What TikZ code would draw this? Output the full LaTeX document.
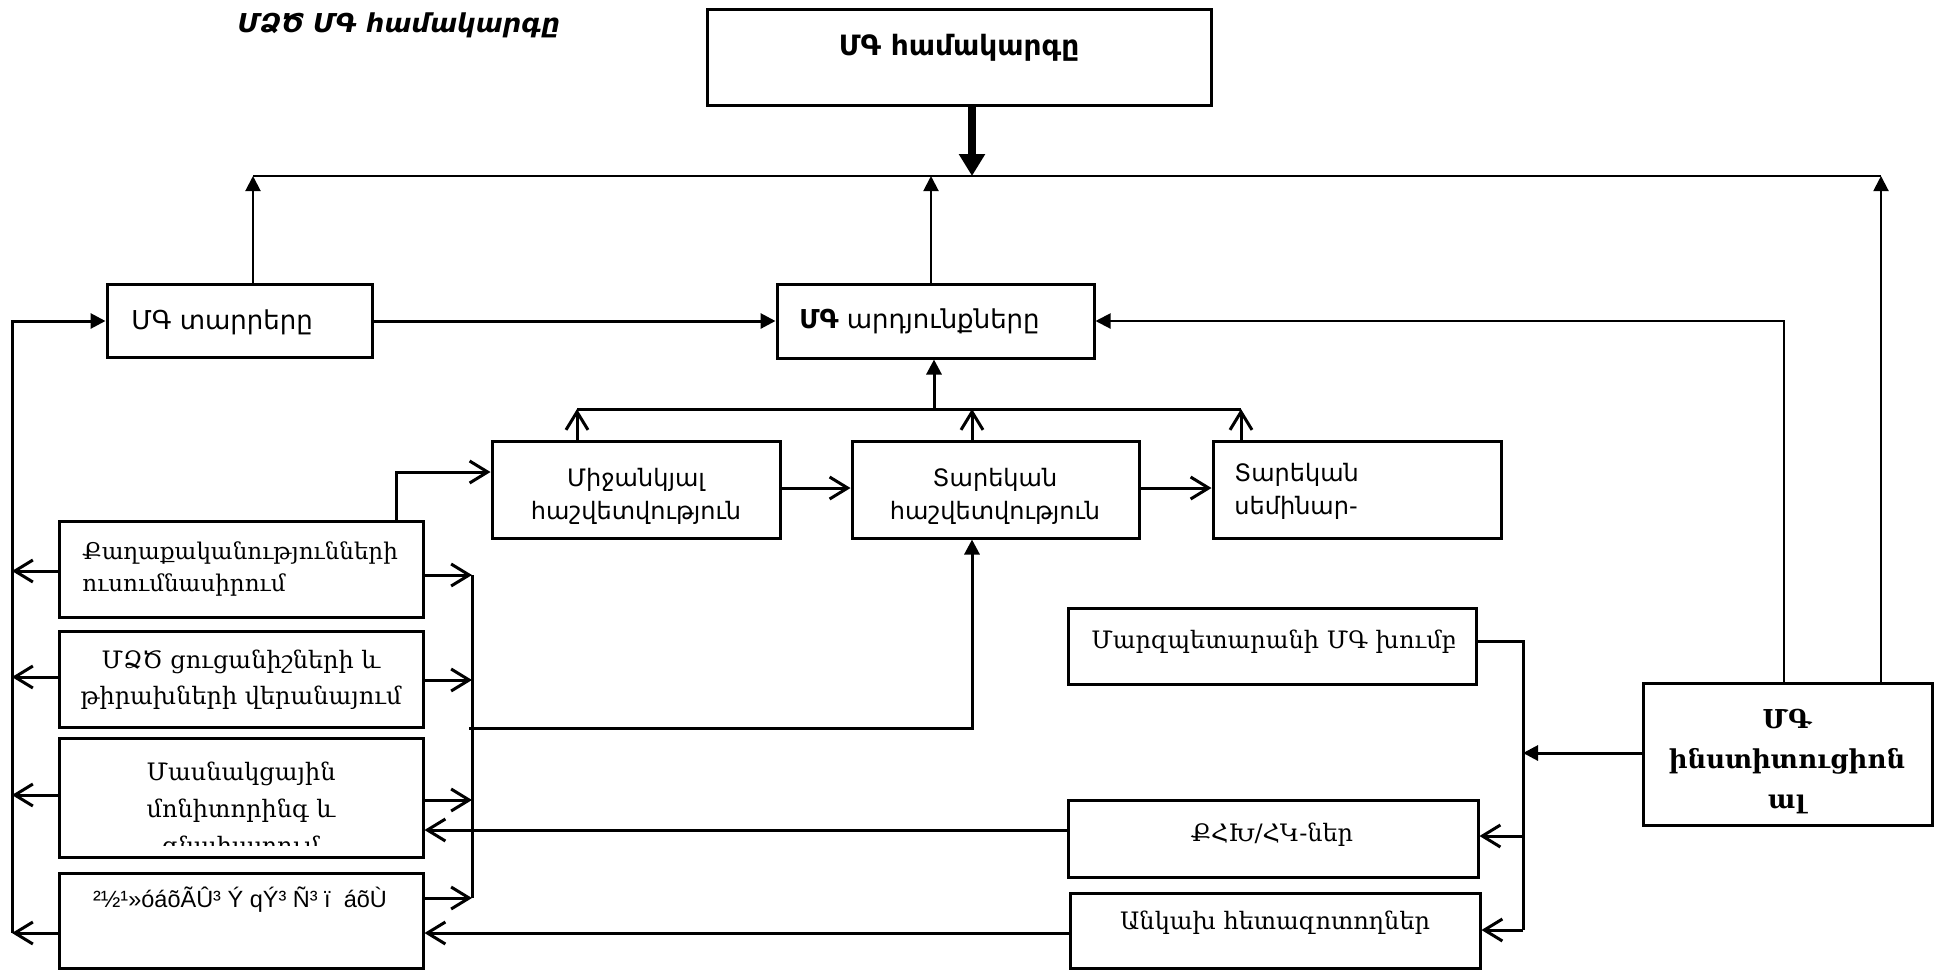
\documentclass[tikz,border=0pt]{standalone}
\usepackage{fontspec}
\setmainfont{DejaVu Serif}
\newfontfamily\ars{DejaVu Sans}
\newfontfamily\lat{Liberation Sans}
\usetikzlibrary{arrows.meta}
\newcommand\mkbox[5]{\node[box, minimum width={(#4-#2)*0.5pt}, minimum height={(#5-#3)*0.5pt}] (#1) at ({(#2+#4)/2},{(#3+#5)/2}) {};}
\begin{document}
\begin{tikzpicture}[x=0.5pt,y=-0.5pt,
  box/.style={draw, line width=1.5pt, inner sep=0pt},
  txt/.style={inner sep=0pt, align=center},
  thinl/.style={line width=1pt},
  med/.style={line width=1.5pt},
  ftip/.style={-{Triangle[length=7.5pt,width=7.5pt]}},
  otip/.style={-{Straight Barb[length=9pt,width=11pt]}},
  sans/.style={font=\ars\fontsize{12}{16.5}\selectfont},
  serif/.style={font=\rmfamily\fontsize{12}{16}\selectfont}
]
\useasboundingbox (0,0) rectangle (1934,971);
% boxes
\mkbox{top}{707}{9}{1211}{105}
\mkbox{tar}{107}{284}{372}{357}
\mkbox{ard}{777}{284}{1094}{358}
\mkbox{mij}{492}{441}{780}{538}
\mkbox{tark}{852}{441}{1139}{538}
\mkbox{sem}{1213}{441}{1501}{538}
\mkbox{b1}{59}{521}{423}{617}
\mkbox{b2}{59}{631}{423}{727}
\mkbox{b3}{59}{738}{423}{857}
\mkbox{b4}{59}{873}{423}{968}
\mkbox{marz}{1068}{608}{1476}{684}
\mkbox{inst}{1643}{683}{1932}{825}
\mkbox{qhk}{1068}{800}{1478}{877}
\mkbox{ank}{1070}{893}{1480}{968}
% texts
\node[txt,font=\ars\bfseries\itshape\fontsize{13}{16}\selectfont] (title) at (399,25) {ՄՁԾ ՄԳ համակարգը};
\node[txt,font=\ars\bfseries\fontsize{14}{17}\selectfont] (topt) at (959,48) {ՄԳ համակարգը};
\node[txt,font=\ars\fontsize{13}{16}\selectfont,anchor=west] (tart) at (131,322) {ՄԳ տարրերը};
\node[txt,font=\ars\fontsize{13}{16}\selectfont,anchor=west] (ardt) at (799,321) {{\bfseries ՄԳ} արդյունքները};
\node[txt,sans] (mijt) at (636,496) {Միջանկյալ\\հաշվետվություն};
\node[txt,sans] (tarkt) at (995,496) {Տարեկան\\հաշվետվություն};
\node[txt,sans,align=left,anchor=west] (semt) at (1234,491) {Տարեկան\\սեմինար-};
\node[txt,font=\rmfamily\fontsize{11.5}{16}\selectfont,align=left,anchor=west] (b1t) at (82,569) {Քաղաքականությունների\\ուսումնասիրում};
\node[txt,font=\rmfamily\fontsize{12}{18}\selectfont] (b2t) at (241,680) {ՄՁԾ ցուցանիշների և\\թիրախների վերանայում};
\begin{scope}
\clip (59,738) rectangle (423,845);
\node[txt,font=\rmfamily\fontsize{12}{18.5}\selectfont] (b3t) at (241,811) {Մասնակցային\\մոնիտորինգ և\\գնահատում};
\end{scope}
\node[txt,font=\lat\fontsize{11.75}{14}\selectfont] (b4t) at (240,900) {²½¹»óáõÃÛ³ Ý qÝ³ Ñ³ ï\ \ áõÙ};
\node[txt,serif,anchor=west] (marzt) at (1091,642) {Մարզպետարանի ՄԳ խումբ};
\node[txt,serif] (qhkt) at (1272,835) {ՔՀԽ/ՀԿ-ներ};
\node[txt,serif] (ankt) at (1275,923) {Անկախ հետազոտողներ};
\node[txt,font=\rmfamily\bfseries\fontsize{13}{20}\selectfont] (instt) at (1787,762) {ՄԳ\\ինստիտուցիոն\\ալ};
% coordinates
\coordinate (tl) at (253,176);
\coordinate (tm) at (931,176);
\coordinate (tr) at (1881,176);
\coordinate (tk) at (972,176);
\coordinate (ir) at (1784,321);
\coordinate (ll) at (12,933);
\coordinate (bl) at (577,409);
\coordinate (bm) at (934,409);
\coordinate (bk) at (972,409);
\coordinate (br) at (1241,409);
\coordinate (mt) at (0,488);
\coordinate (qm) at (396,472);
\coordinate (l1) at (12,571);
\coordinate (l2) at (12,677);
\coordinate (l3) at (12,795);
\coordinate (l4) at (12,933);
\coordinate (r1) at (472,575);
\coordinate (r2) at (472,680);
\coordinate (r3) at (472,800);
\coordinate (r4) at (472,898);
\coordinate (rm) at (469,728);
\coordinate (rk) at (972,728);
\coordinate (vr) at (1523,641);
\coordinate (iv) at (1523,753);
\coordinate (q1) at (1523,836);
\coordinate (a1) at (1523,930);
\coordinate (q3) at (0,830);
\coordinate (a4) at (0,933);
% top connectors
\draw[thinl] (tl) -- (tr);
\draw[line width=4pt,-{Triangle[length=11pt,width=12.5pt]}] (top.south -| tk) -- (tk);
\draw[thinl,ftip] (tar.north -| tl) -- (tl);
\draw[thinl,ftip] (ard.north -| tm) -- (tm);
\draw[thinl,ftip] (inst.north -| tr) -- (tr);
\draw[thinl,ftip] (inst.north -| ir) |- (ard.east |- ir);
\draw[med,ftip] (tar.east |- ir) -- (ard.west |- ir);
\draw[med,ftip] (ll) |- (tar.west |- ir);
% bus
\draw[med] (bl) -- (br);
\draw[med,ftip] (bm) -- (ard.south -| bm);
\draw[med,otip] (mij.north -| bl) -- (bl);
\draw[med,otip] (tark.north -| bk) -- (bk);
\draw[med,otip] (sem.north -| br) -- (br);
\draw[med,otip] (mij.east |- mt) -- (tark.west |- mt);
\draw[med,otip] (tark.east |- mt) -- (sem.west |- mt);
\draw[med,otip] (b1.north -| qm) |- (mij.west |- qm);
% left side
\draw[med,otip] (b1.west |- l1) -- (l1);
\draw[med,otip] (b2.west |- l2) -- (l2);
\draw[med,otip] (b3.west |- l3) -- (l3);
\draw[med,otip] (b4.west |- l4) -- (l4);
\draw[med,otip] (b1.east |- r1) -- (r1);
\draw[med,otip] (b2.east |- r2) -- (r2);
\draw[med,otip] (b3.east |- r3) -- (r3);
\draw[med,otip] (b4.east |- r4) -- (r4);
\draw[med] (r1) -- (r4);
\draw[med,ftip] (rm) -- (rk) -- (tark.south -| rk);
% right side
\draw[med] (marz.east |- vr) -- (vr) -- (a1);
\draw[med,ftip] (inst.west |- iv) -- (iv);
\draw[med,otip] (q1) -- (qhk.east |- q1);
\draw[med,otip] (a1) -- (ank.east |- a1);
\draw[med,otip] (qhk.west |- q3) -- (b3.east |- q3);
\draw[med,otip] (ank.west |- a4) -- (b4.east |- a4);
\end{tikzpicture}
\end{document}
